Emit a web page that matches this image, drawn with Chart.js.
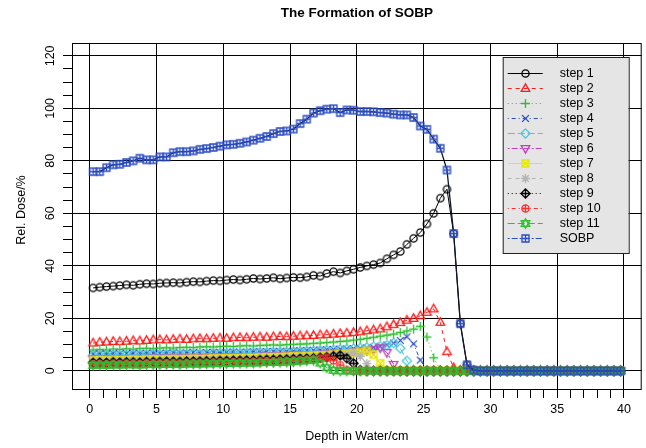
<!DOCTYPE html>
<html>
<head>
<meta charset="utf-8">
<script src="https://cdn.jsdelivr.net/npm/chart.js@4.4.0/dist/chart.umd.min.js"></script>
<style>
  html, body { margin: 0; padding: 0; background: #fff; }
  #wrap { width: 646px; height: 448px; }
</style>
</head>
<body>
<div id="wrap"><canvas id="sobpChart" width="646" height="448"></canvas></div>
<script>
// depth bins (cm), centres of 0.5 cm bins
const depth = [
  0.25, 0.75, 1.25, 1.75, 2.25, 2.75, 3.25, 3.75, 4.25, 4.75,
  5.25, 5.75, 6.25, 6.75, 7.25, 7.75, 8.25, 8.75, 9.25, 9.75,
  10.25, 10.75, 11.25, 11.75, 12.25, 12.75, 13.25, 13.75, 14.25, 14.75,
  15.25, 15.75, 16.25, 16.75, 17.25, 17.75, 18.25, 18.75, 19.25, 19.75,
  20.25, 20.75, 21.25, 21.75, 22.25, 22.75, 23.25, 23.75, 24.25, 24.75,
  25.25, 25.75, 26.25, 26.75, 27.25, 27.75, 28.25, 28.75, 29.25, 29.75,
  30.25, 30.75, 31.25, 31.75, 32.25, 32.75, 33.25, 33.75, 34.25, 34.75,
  35.25, 35.75, 36.25, 36.75, 37.25, 37.75, 38.25, 38.75, 39.25, 39.75
];

const step1 = [
  31.6, 31.9, 32.1, 32.3, 32.5, 32.8, 32.6, 33.0, 33.2, 33.1,
  33.4, 33.5, 33.6, 33.5, 33.8, 34.0, 33.9, 34.2, 34.4, 34.3,
  34.6, 34.8, 34.6, 34.9, 35.2, 35.0, 35.2, 35.5, 35.1, 35.4,
  35.6, 35.5, 35.8, 36.4, 36.1, 37.1, 37.8, 37.3, 38.1, 38.7,
  39.4, 40.0, 40.5, 41.1, 42.7, 44.2, 45.5, 48.2, 50.5, 52.7,
  56.0, 60.0, 65.8, 69.2, 52.3, 18.0, 2.3, 0.3, 0, 0,
  0, 0, 0, 0, 0, 0, 0, 0, 0, 0,
  0, 0, 0, 0, 0, 0, 0, 0, 0, 0
];
const step2 = [
  10.6, 10.9, 11.0, 11.2, 11.1, 11.3, 11.5, 11.4, 11.6, 11.8,
  11.9, 11.8, 12.0, 12.1, 12.0, 12.2, 12.3, 12.2, 12.4, 12.5,
  12.4, 12.6, 12.7, 12.6, 12.8, 12.9, 12.8, 13.0, 13.1, 13.0,
  13.2, 13.3, 13.4, 13.5, 13.7, 13.8, 14.0, 14.2, 14.4, 14.6,
  14.9, 15.3, 15.6, 16.0, 16.8, 17.6, 18.4, 19.3, 20.0, 21.0,
  22.3, 23.6, 18.5, 7.3, 1.2, 0.1, 0, 0, 0, 0,
  0, 0, 0, 0, 0, 0, 0, 0, 0, 0,
  0, 0, 0, 0, 0, 0, 0, 0, 0, 0
];
const step3 = [
  8.0, 8.1, 8.0, 8.3, 8.2, 8.4, 8.3, 8.5, 8.6, 8.5,
  8.7, 8.8, 8.7, 8.9, 9.0, 8.9, 9.1, 9.2, 9.1, 9.3,
  9.4, 9.3, 9.5, 9.6, 9.5, 9.7, 9.8, 9.9, 9.8, 10.0,
  10.1, 10.2, 10.3, 10.5, 10.6, 10.8, 11.0, 11.2, 11.4, 11.7,
  12.0, 12.4, 12.8, 13.2, 13.6, 14.0, 14.6, 15.2, 15.9, 17.0,
  12.9, 5.0, 0.5, 0, 0, 0, 0, 0, 0, 0,
  0, 0, 0, 0, 0, 0, 0, 0, 0, 0,
  0, 0, 0, 0, 0, 0, 0, 0, 0, 0
];
const step4 = [
  6.4, 6.5, 6.4, 6.6, 6.5, 6.6, 6.7, 6.6, 6.7, 6.8,
  6.7, 6.8, 6.9, 6.8, 6.9, 7.0, 6.9, 7.0, 7.1, 7.0,
  7.1, 7.2, 7.1, 7.2, 7.3, 7.3, 7.4, 7.5, 7.4, 7.5,
  7.6, 7.7, 7.8, 7.9, 8.0, 8.1, 8.2, 8.3, 8.4, 8.5,
  8.6, 8.8, 9.0, 9.4, 9.9, 10.6, 11.6, 13.0, 10.3, 4.1,
  0.4, 0, 0, 0, 0, 0, 0, 0, 0, 0,
  0, 0, 0, 0, 0, 0, 0, 0, 0, 0,
  0, 0, 0, 0, 0, 0, 0, 0, 0, 0
];
const step5 = [
  5.9, 6.0, 5.9, 6.1, 6.0, 6.1, 6.2, 6.1, 6.2, 6.3,
  6.2, 6.3, 6.4, 6.3, 6.4, 6.5, 6.4, 6.5, 6.6, 6.6,
  6.7, 6.8, 6.7, 6.8, 6.9, 7.0, 7.0, 7.1, 7.2, 7.2,
  7.3, 7.4, 7.5, 7.6, 7.7, 7.8, 8.0, 8.1, 8.3, 8.5,
  8.7, 8.9, 9.2, 9.4, 9.8, 10.6, 8.6, 3.8, 0.3, 0,
  0, 0, 0, 0, 0, 0, 0, 0, 0, 0,
  0, 0, 0, 0, 0, 0, 0, 0, 0, 0,
  0, 0, 0, 0, 0, 0, 0, 0, 0, 0
];
const step6 = [
  4.5, 4.6, 4.5, 4.7, 4.6, 4.7, 4.8, 4.7, 4.8, 4.9,
  4.8, 4.9, 5.0, 4.9, 5.0, 5.1, 5.0, 5.1, 5.2, 5.2,
  5.3, 5.3, 5.4, 5.5, 5.5, 5.6, 5.7, 5.7, 5.8, 5.9,
  6.0, 6.1, 6.2, 6.3, 6.4, 6.5, 6.6, 6.8, 7.0, 7.2,
  7.4, 7.7, 8.1, 8.8, 7.0, 2.5, 0.2, 0, 0, 0,
  0, 0, 0, 0, 0, 0, 0, 0, 0, 0,
  0, 0, 0, 0, 0, 0, 0, 0, 0, 0,
  0, 0, 0, 0, 0, 0, 0, 0, 0, 0
];
const step7 = [
  4.0, 4.1, 4.0, 4.2, 4.1, 4.2, 4.3, 4.2, 4.3, 4.4,
  4.3, 4.4, 4.5, 4.4, 4.5, 4.6, 4.5, 4.6, 4.7, 4.7,
  4.8, 4.8, 4.9, 5.0, 5.0, 5.1, 5.2, 5.2, 5.3, 5.4,
  5.5, 5.6, 5.7, 5.8, 5.9, 6.0, 6.2, 6.4, 6.6, 6.8,
  7.1, 7.6, 6.2, 2.9, 0.2, 0, 0, 0, 0, 0,
  0, 0, 0, 0, 0, 0, 0, 0, 0, 0,
  0, 0, 0, 0, 0, 0, 0, 0, 0, 0,
  0, 0, 0, 0, 0, 0, 0, 0, 0, 0
];
const step8 = [
  3.6, 3.7, 3.6, 3.8, 3.7, 3.8, 3.9, 3.8, 3.9, 4.0,
  3.9, 4.0, 4.1, 4.0, 4.1, 4.2, 4.1, 4.2, 4.3, 4.3,
  4.4, 4.4, 4.5, 4.6, 4.6, 4.7, 4.8, 4.8, 4.9, 5.0,
  5.1, 5.2, 5.3, 5.4, 5.5, 5.7, 5.9, 6.1, 6.4, 6.8,
  5.5, 2.8, 0.3, 0, 0, 0, 0, 0, 0, 0,
  0, 0, 0, 0, 0, 0, 0, 0, 0, 0,
  0, 0, 0, 0, 0, 0, 0, 0, 0, 0,
  0, 0, 0, 0, 0, 0, 0, 0, 0, 0
];
const step9 = [
  3.1, 3.2, 3.1, 3.3, 3.2, 3.3, 3.3, 3.2, 3.4, 3.4,
  3.4, 3.5, 3.5, 3.4, 3.6, 3.6, 3.6, 3.7, 3.7, 3.8,
  3.8, 3.9, 3.9, 4.0, 4.0, 4.1, 4.2, 4.2, 4.3, 4.4,
  4.5, 4.6, 4.7, 4.8, 5.0, 5.2, 5.6, 5.9, 4.8, 2.9,
  0.3, 0, 0, 0, 0, 0, 0, 0, 0, 0,
  0, 0, 0, 0, 0, 0, 0, 0, 0, 0,
  0, 0, 0, 0, 0, 0, 0, 0, 0, 0,
  0, 0, 0, 0, 0, 0, 0, 0, 0, 0
];
const step10 = [
  2.5, 2.6, 2.5, 2.6, 2.6, 2.7, 2.7, 2.6, 2.8, 2.8,
  2.8, 2.9, 2.9, 2.8, 3.0, 3.0, 3.0, 3.1, 3.1, 3.2,
  3.2, 3.3, 3.3, 3.4, 3.4, 3.5, 3.6, 3.6, 3.7, 3.8,
  3.9, 4.0, 4.2, 4.4, 4.7, 5.0, 4.0, 2.2, 0.3, 0,
  0, 0, 0, 0, 0, 0, 0, 0, 0, 0,
  0, 0, 0, 0, 0, 0, 0, 0, 0, 0,
  0, 0, 0, 0, 0, 0, 0, 0, 0, 0,
  0, 0, 0, 0, 0, 0, 0, 0, 0, 0
];
const step11 = [
  2.1, 2.2, 2.1, 2.3, 2.2, 2.3, 2.3, 2.2, 2.4, 2.4,
  2.4, 2.5, 2.5, 2.4, 2.6, 2.6, 2.6, 2.7, 2.7, 2.8,
  2.8, 2.9, 2.9, 3.0, 3.0, 3.1, 3.2, 3.2, 3.3, 3.4,
  3.5, 3.7, 3.9, 4.1, 3.0, 1.2, 0.2, 0, 0, 0,
  0, 0, 0, 0, 0, 0, 0, 0, 0, 0,
  0, 0, 0, 0, 0, 0, 0, 0, 0, 0,
  0, 0, 0, 0, 0, 0, 0, 0, 0, 0,
  0, 0, 0, 0, 0, 0, 0, 0, 0, 0
];
const sobp = [
  75.9, 75.9, 77.4, 78.5, 78.7, 79.4, 80.0, 81.0, 80.4, 80.4,
  81.5, 81.5, 83.1, 83.5, 83.5, 83.8, 84.4, 84.7, 85.1, 85.6,
  86.1, 86.3, 86.7, 87.2, 87.9, 88.6, 89.3, 90.4, 91.2, 91.4,
  92.1, 94.2, 95.9, 98.2, 99.1, 99.7, 99.9, 98.4, 99.4, 99.3,
  98.8, 98.8, 98.7, 98.4, 98.2, 97.8, 97.5, 97.5, 96.5, 93.3,
  92.0, 88.3, 84.8, 76.5, 52.3, 18.0, 2.3, 0.3, 0, 0,
  0, 0, 0, 0, 0, 0, 0, 0, 0, 0,
  0, 0, 0, 0, 0, 0, 0, 0, 0, 0
];

const seriesNames = ['step 1', 'step 2', 'step 3', 'step 4', 'step 5', 'step 6',
                     'step 7', 'step 8', 'step 9', 'step 10', 'step 11', 'SOBP'];
const xTickLabels = [0, 5, 10, 15, 20, 25, 30, 35, 40];
const yTickLabels = [0, 20, 40, 60, 80, 100, 120];
const xMinorTicks = [0,1,2,3,4,5,6,7,8,9,10,11,12,13,14,15,16,17,18,19,20,
                     21,22,23,24,25,26,27,28,29,30,31,32,33,34,35,36,37,38,39,40];
const yMinorTicks = [0,5,10,15,20,25,30,35,40,45,50,55,60,65,70,75,80,85,90,95,
                     100,105,110,115,120];

const FONT = '"Liberation Sans", Arial, Helvetica, sans-serif';

// R-like plotting symbols as small canvases
function makeSymbol(kind, color) {
  const s = 13, c = 6.5;
  const cv = document.createElement('canvas');
  cv.width = s; cv.height = s;
  const g = cv.getContext('2d');
  g.strokeStyle = color;
  g.lineWidth = 1.3;
  g.beginPath();
  const tri = (dir) => {
    g.moveTo(c, c - 4.6 * dir);
    g.lineTo(c + 4.3, c + 2.8 * dir);
    g.lineTo(c - 4.3, c + 2.8 * dir);
    g.closePath();
  };
  const plus = (r) => { g.moveTo(c - r, c); g.lineTo(c + r, c); g.moveTo(c, c - r); g.lineTo(c, c + r); };
  const cross = (r) => { g.moveTo(c - r, c - r); g.lineTo(c + r, c + r); g.moveTo(c - r, c + r); g.lineTo(c + r, c - r); };
  const diamond = (r) => { g.moveTo(c, c - r); g.lineTo(c + r, c); g.lineTo(c, c + r); g.lineTo(c - r, c); g.closePath(); };
  switch (kind) {
    case 'circle': g.arc(c, c, 3.6, 0, Math.PI * 2); break;
    case 'triUp': tri(1); break;
    case 'plus': plus(4.4); break;
    case 'cross': cross(3.4); break;
    case 'diamond': diamond(4.6); break;
    case 'triDown': tri(-1); break;
    case 'squareX': g.rect(c - 3.5, c - 3.5, 7, 7); cross(3.5); break;
    case 'asterisk': plus(4.4); cross(3.2); break;
    case 'diamondPlus': diamond(4.6); plus(4.6); break;
    case 'circlePlus': g.arc(c, c, 3.6, 0, Math.PI * 2); g.moveTo(c + 3.6, c); plus(3.6); break;
    case 'star6': tri(1); g.moveTo(c, c + 4.6); tri(-1); break;
    case 'squarePlus': g.rect(c - 3.5, c - 3.5, 7, 7); plus(3.5); break;
  }
  g.stroke();
  return cv;
}

const seriesData = [step1, step2, step3, step4, step5, step6, step7, step8, step9, step10, step11, sobp];
const seriesColors = ['#000000', '#ff1a1a', '#2ebd2e', '#2a4cc4', '#45c8de', '#c040c0',
                      '#e8e800', '#b4b4b4', '#000000', '#ff2a2a', '#2ebd2e', '#2a4cc4'];
const seriesSymbols = ['circle', 'triUp', 'plus', 'cross', 'diamond', 'triDown',
                       'squareX', 'asterisk', 'diamondPlus', 'circlePlus', 'star6', 'squarePlus'];
const seriesDash = [[], [4, 4], [1, 3], [1, 3, 4, 3], [7, 3], [2, 2, 6, 2],
                    [], [4, 4], [1, 3], [1, 3, 4, 3], [7, 3], [2, 2, 6, 2]];

const symbols = seriesSymbols.map((k, i) => makeSymbol(k, seriesColors[i]));

const datasets = seriesData.map((vals, i) => ({
  label: seriesNames[i],
  data: depth.map((d, j) => ({ x: d, y: vals[j] })),
  borderColor: i === 11 ? '#10142e' : seriesColors[i],
  borderWidth: i === 11 ? 1.3 : 1,
  borderDash: i === 11 ? [] : seriesDash[i],
  pointStyle: symbols[i],
  pointRadius: 3,
  pointHoverRadius: 3,
  tension: 0,
  fill: false,
  order: 11 - i
}));

const rFrame = {
  id: 'rFrame',
  afterDraw(chart) {
    const ctx = chart.ctx;
    const a = chart.chartArea;
    const ys = chart.scales.y;
    ctx.save();
    // plot box
    ctx.strokeStyle = '#000';
    ctx.lineWidth = 1;
    ctx.strokeRect(a.left + 0.5, a.top + 0.5, a.right - a.left - 1, a.bottom - a.top);
    ctx.fillStyle = '#000';
    // title
    ctx.textAlign = 'center';
    ctx.textBaseline = 'middle';
    ctx.font = 'bold 13.5px ' + FONT;
    ctx.fillText('The Formation of SOBP', (a.left + a.right) / 2, 13);
    // x title
    ctx.font = '12.5px ' + FONT;
    ctx.fillText('Depth in Water/cm', (a.left + a.right) / 2, 437);
    // y tick labels, rotated like R
    yTickLabels.forEach(v => {
      const py = ys.getPixelForValue(v);
      ctx.save();
      ctx.translate(51, py);
      ctx.rotate(-Math.PI / 2);
      ctx.fillText(String(v), 0, 0);
      ctx.restore();
    });
    // y title
    ctx.save();
    ctx.translate(22, (a.top + a.bottom) / 2 - 6);
    ctx.rotate(-Math.PI / 2);
    ctx.fillText('Rel. Dose/%', 0, 0);
    ctx.restore();

    // legend
    const lw = 126, lh = 196;
    const lx = a.right - 13 - lw, ly = a.top + 14;
    ctx.fillStyle = '#e5e5e5';
    ctx.fillRect(lx, ly, lw, lh);
    ctx.strokeStyle = '#222';
    ctx.strokeRect(lx + 0.5, ly + 0.5, lw, lh);
    ctx.font = '12.5px ' + FONT;
    ctx.textAlign = 'left';
    seriesNames.forEach((name, i) => {
      const cy = Math.round(ly + 16 + i * 15) + 0.5;
      ctx.strokeStyle = seriesColors[i];
      ctx.setLineDash(seriesDash[i]);
      ctx.beginPath();
      ctx.moveTo(lx + 5, cy);
      ctx.lineTo(lx + 40, cy);
      ctx.stroke();
      ctx.setLineDash([]);
      const sym = symbols[i];
      ctx.drawImage(sym, Math.round(lx + 23 - sym.width / 2), Math.round(cy - sym.height / 2));
      ctx.fillStyle = '#000';
      ctx.fillText(name, lx + 57, cy + 0.5);
    });
    ctx.restore();
  }
};

const ctx = document.getElementById('sobpChart').getContext('2d');
new Chart(ctx, {
  type: 'line',
  data: { datasets: datasets },
  options: {
    responsive: false,
    devicePixelRatio: 1,
    animation: false,
    layout: { padding: { top: 43, right: 4, left: 0, bottom: 0 } },
    plugins: {
      legend: { display: false },
      tooltip: { enabled: false },
      title: { display: false }
    },
    scales: {
      x: {
        type: 'linear',
        min: -1.33,
        max: 41.33,
        afterBuildTicks: s => { s.ticks = xMinorTicks.map(v => ({ value: v })); },
        afterFit: s => { s.height = 59; },
        border: { display: false },
        grid: {
          color: c => (c.tick && xTickLabels.includes(c.tick.value)) ? '#000' : 'rgba(0,0,0,0)',
          tickColor: '#000',
          tickLength: 9,
          lineWidth: 1
        },
        ticks: {
          autoSkip: false,
          maxRotation: 0,
          minRotation: 0,
          padding: 4,
          color: '#000',
          font: { family: FONT, size: 12.5 },
          callback: v => xTickLabels.includes(v) ? String(v) : ''
        }
      },
      y: {
        type: 'linear',
        min: -6.9,
        max: 124.9,
        afterBuildTicks: s => { s.ticks = yMinorTicks.map(v => ({ value: v })); },
        afterFit: s => { s.width = 72; },
        border: { display: false },
        grid: {
          color: c => (c.tick && yTickLabels.includes(c.tick.value)) ? '#000' : 'rgba(0,0,0,0)',
          tickColor: '#000',
          tickLength: 9,
          lineWidth: 1
        },
        ticks: { display: false }
      }
    }
  },
  plugins: [rFrame]
});
</script>
</body>
</html>
